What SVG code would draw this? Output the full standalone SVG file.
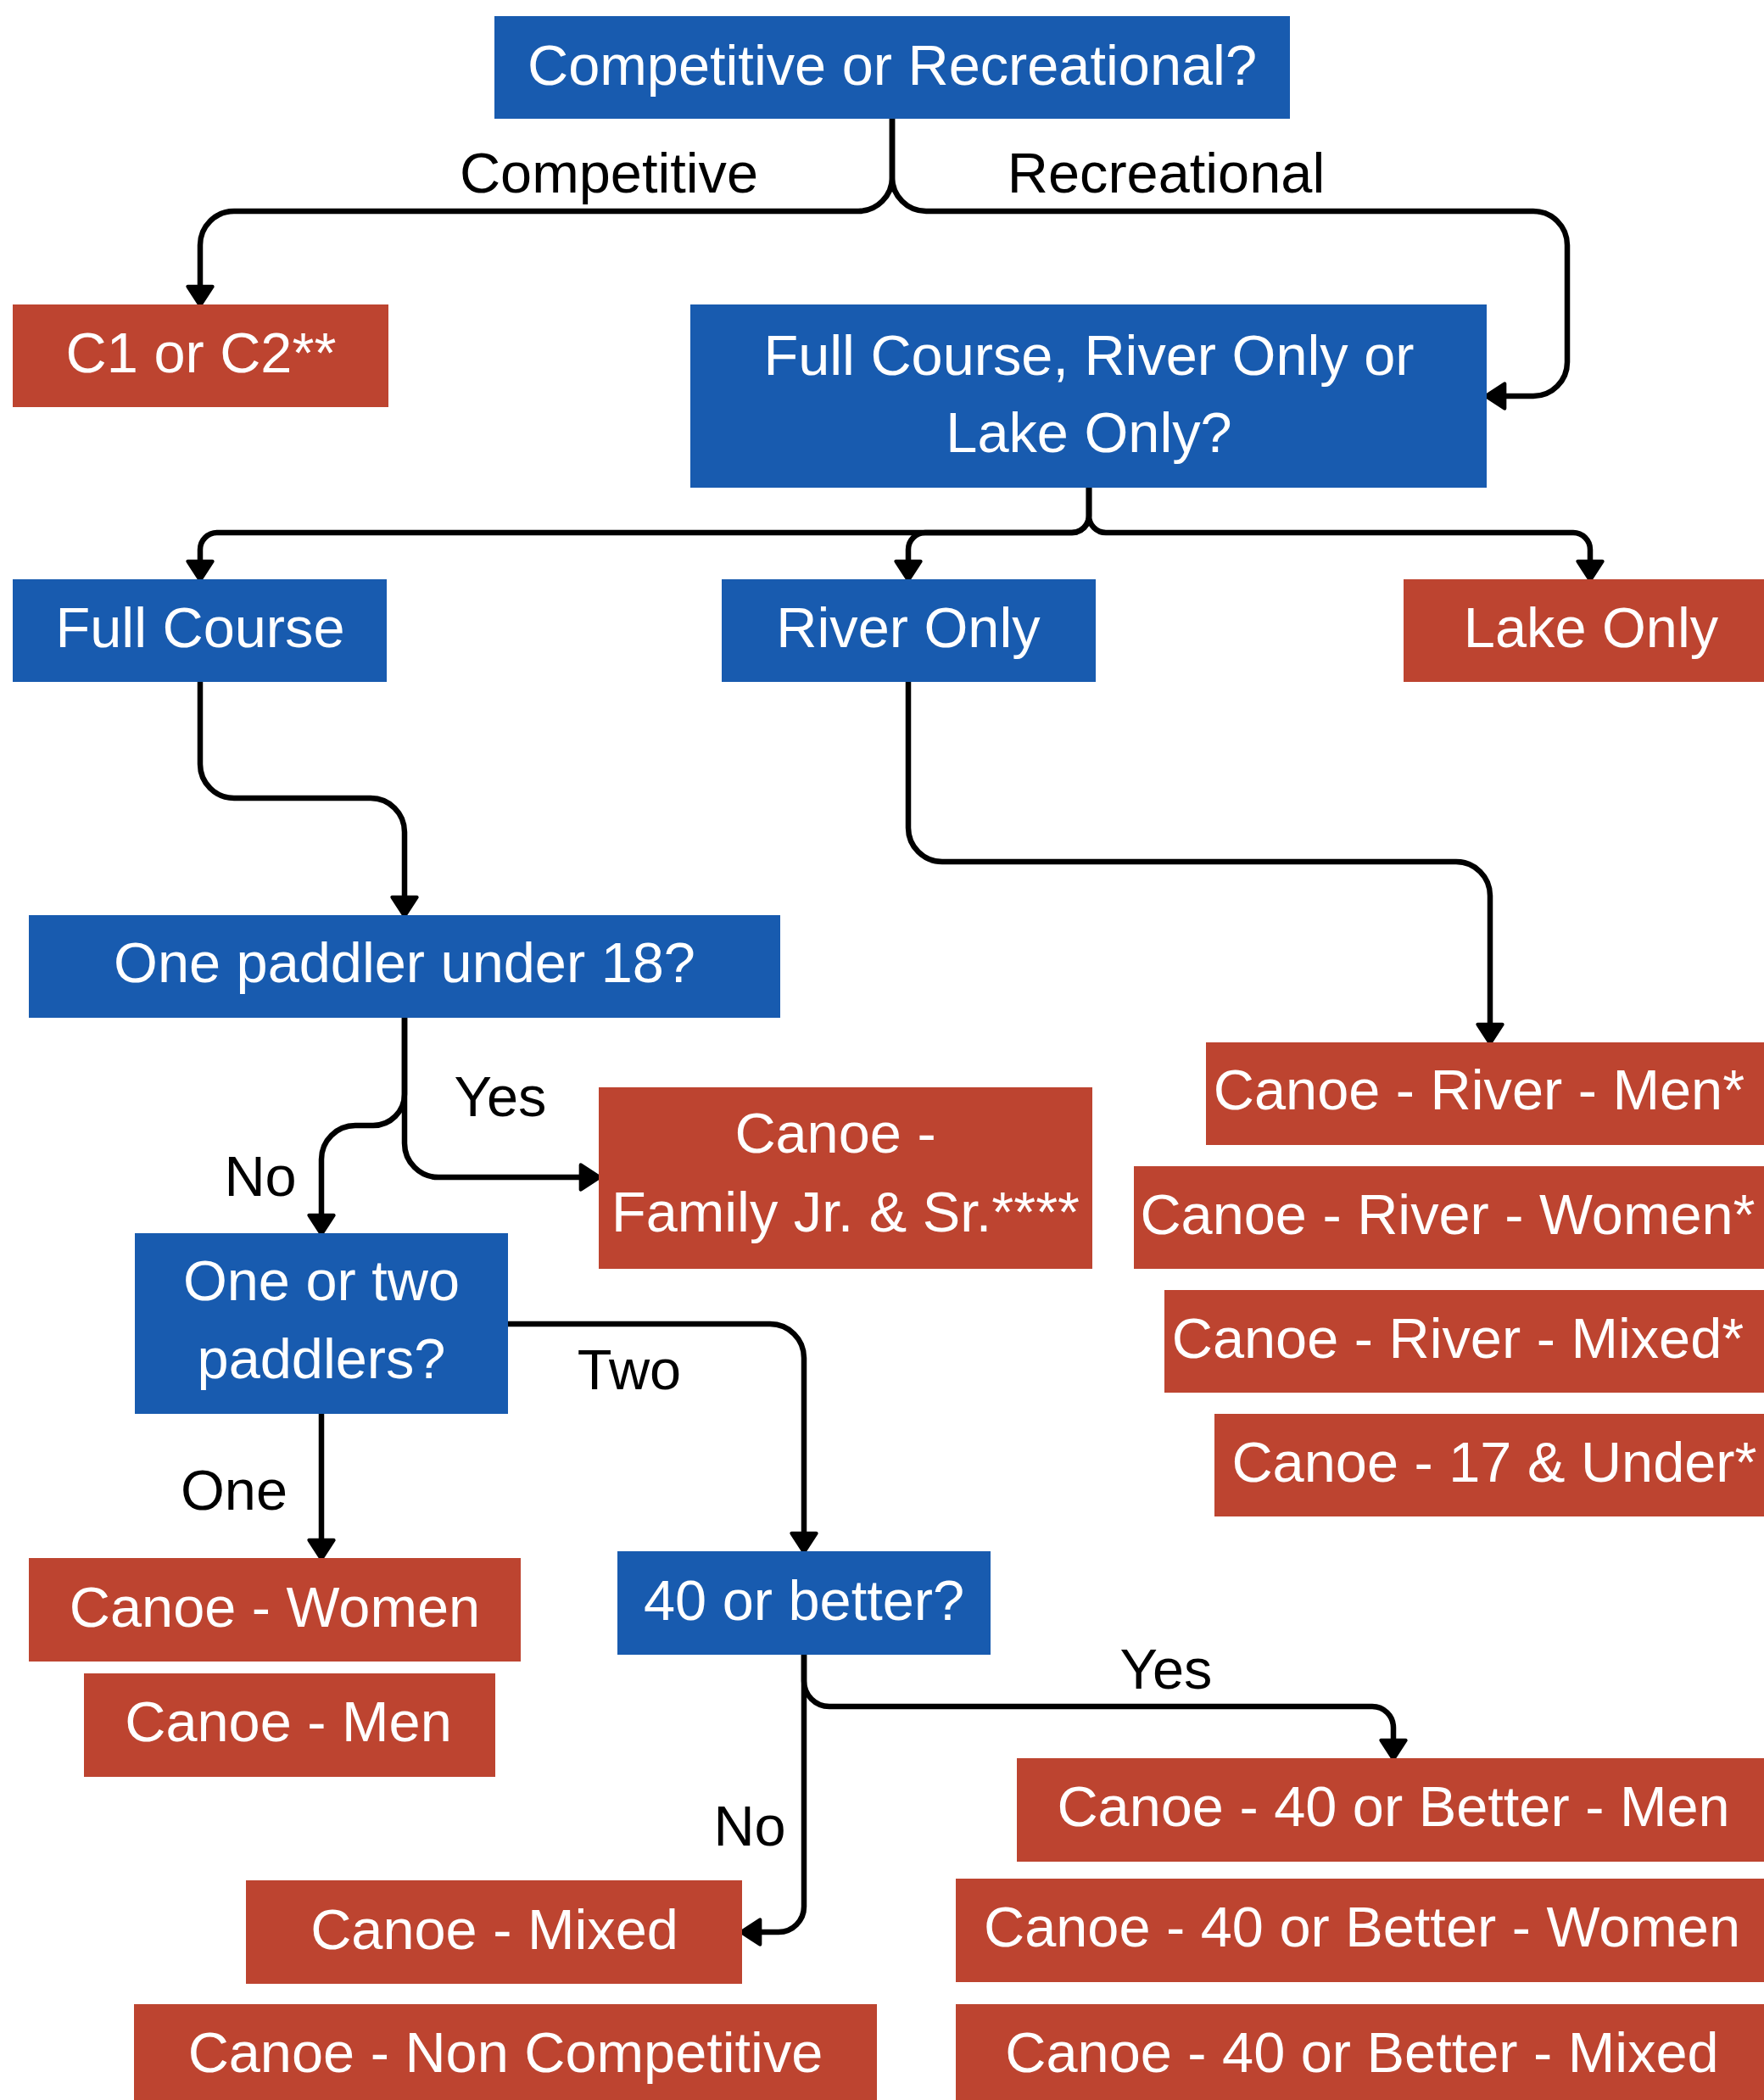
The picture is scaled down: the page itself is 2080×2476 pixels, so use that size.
<svg xmlns="http://www.w3.org/2000/svg" width="2080" height="2476" viewBox="0 0 2080 2476">
<style>
.b{fill:#185BAF}
.r{fill:#BD4430}
.t{font-family:"Liberation Sans",Arial,sans-serif;font-size:66.7px;fill:#fff;text-anchor:middle}
.l{font-family:"Liberation Sans",Arial,sans-serif;font-size:66.7px;fill:#000;text-anchor:middle}
.c{fill:none;stroke:#000;stroke-width:6.5;marker-end:url(#arr)}
</style>
<defs>
<marker id="arr" markerUnits="userSpaceOnUse" markerWidth="40" markerHeight="40" viewBox="-4 -18 30 36" refX="10" refY="0" orient="auto">
<path d="M0,-13 L20,0 L0,13 Z" fill="#000" stroke="#000" stroke-width="4" stroke-linejoin="round"/>
</marker>
</defs>
<rect width="2080" height="2476" fill="#fff"/>
<g id="connectors">
<path class="c" d="M1052,140 V209 A40,40 0 0 1 1012,249 H276 A40,40 0 0 0 236,289 V349"/>
<path class="c" d="M1052,140 V209 A40,40 0 0 0 1092,249 H1808 A40,40 0 0 1 1848,289 V427 A40,40 0 0 1 1808,467 H1763"/>
<path class="c" d="M1284,575 V608 A20,20 0 0 1 1264,628 H256 A20,20 0 0 0 236,648 V673"/>
<path class="c" d="M1284,575 V608 A20,20 0 0 1 1264,628 H1091 A20,20 0 0 0 1071,648 V673"/>
<path class="c" d="M1284,575 V608 A20,20 0 0 0 1304,628 H1855 A20,20 0 0 1 1875,648 V673"/>
<path class="c" d="M236,804 V901 A40,40 0 0 0 276,941 H437 A40,40 0 0 1 477,981 V1069"/>
<path class="c" d="M1071,804 V976 A40,40 0 0 0 1111,1016 H1717 A40,40 0 0 1 1757,1056 V1219"/>
<path class="c" d="M477,1200 V1348 A40,40 0 0 0 517,1388 H696"/>
<path class="c" d="M477,1200 V1290 A37,37 0 0 1 440,1327 H419 A40,40 0 0 0 379,1367 V1444"/>
<path class="c" d="M599,1561 H908 A40,40 0 0 1 948,1601 V1819"/>
<path class="c" d="M379,1667 V1827"/>
<path class="c" d="M948,1951 V1982 A30,30 0 0 0 978,2012 H1618 A25,25 0 0 1 1643,2037 V2063"/>
<path class="c" d="M948,1951 V2248 A30,30 0 0 1 918,2278 H885"/>
</g>
<g id="labels">
<text class="l" x="718" y="227">Competitive</text>
<text class="l" x="1375" y="227">Recreational</text>
<text class="l" x="590" y="1316">Yes</text>
<text class="l" x="307" y="1410">No</text>
<text class="l" x="742" y="1638">Two</text>
<text class="l" x="276" y="1780">One</text>
<text class="l" x="1375" y="1991">Yes</text>
<text class="l" x="884" y="2176">No</text>
</g>
<g id="n-title"><rect class="b" x="583" y="19" width="938" height="121"/><text class="t" x="1052" y="100">Competitive or Recreational?</text></g>
<g id="n-c1c2"><rect class="r" x="15" y="359" width="443" height="121"/><text class="t" x="237" y="439">C1 or C2**</text></g>
<g id="n-course"><rect class="b" x="814" y="359" width="939" height="216"/><text class="t" x="1284" y="442">Full Course, River Only or</text><text class="t" x="1284" y="533">Lake Only?</text></g>
<g id="n-full"><rect class="b" x="15" y="683" width="441" height="121"/><text class="t" x="236" y="763">Full Course</text></g>
<g id="n-river"><rect class="b" x="851" y="683" width="441" height="121"/><text class="t" x="1071" y="763">River Only</text></g>
<g id="n-lake"><rect class="r" x="1655" y="683" width="445" height="121"/><text class="t" x="1876" y="763">Lake Only</text></g>
<g id="n-under18"><rect class="b" x="34" y="1079" width="886" height="121"/><text class="t" x="477" y="1158">One paddler under 18?</text></g>
<g id="n-rivermen"><rect class="r" x="1422" y="1229" width="680" height="121"/><text class="t" x="1744" y="1308">Canoe - River - Men*</text></g>
<g id="n-family"><rect class="r" x="706" y="1282" width="582" height="214"/><text class="t" x="985" y="1359">Canoe -</text><text class="t" x="997" y="1452">Family Jr. &amp; Sr.****</text></g>
<g id="n-riverwomen"><rect class="r" x="1337" y="1375" width="763" height="121"/><text class="t" x="1707" y="1455">Canoe - River - Women*</text></g>
<g id="n-onetwo"><rect class="b" x="159" y="1454" width="440" height="213"/><text class="t" x="379" y="1533">One or two</text><text class="t" x="379" y="1625">paddlers?</text></g>
<g id="n-rivermixed"><rect class="r" x="1373" y="1521" width="727" height="121"/><text class="t" x="1719" y="1601">Canoe - River - Mixed*</text></g>
<g id="n-u17"><rect class="r" x="1432" y="1667" width="668" height="121"/><text class="t" x="1762" y="1747">Canoe - 17 &amp; Under*</text></g>
<g id="n-women"><rect class="r" x="34" y="1837" width="580" height="122"/><text class="t" x="324" y="1918">Canoe - Women</text></g>
<g id="n-40q"><rect class="b" x="728" y="1829" width="440" height="122"/><text class="t" x="948" y="1910">40 or better?</text></g>
<g id="n-men"><rect class="r" x="99" y="1973" width="485" height="122"/><text class="t" x="340" y="2053">Canoe - Men</text></g>
<g id="n-40men"><rect class="r" x="1199" y="2073" width="900" height="122"/><text class="t" x="1643" y="2153">Canoe - 40 or Better - Men</text></g>
<g id="n-mixed"><rect class="r" x="290" y="2217" width="585" height="122"/><text class="t" x="583" y="2298">Canoe - Mixed</text></g>
<g id="n-40women"><rect class="r" x="1127" y="2215" width="973" height="122"/><text class="t" x="1606" y="2295">Canoe - 40 or Better - Women</text></g>
<g id="n-noncomp"><rect class="r" x="158" y="2363" width="876" height="122"/><text class="t" x="596" y="2443">Canoe - Non Competitive</text></g>
<g id="n-40mixed"><rect class="r" x="1127" y="2363" width="973" height="122"/><text class="t" x="1606" y="2443">Canoe - 40 or Better - Mixed</text></g>
</svg>
